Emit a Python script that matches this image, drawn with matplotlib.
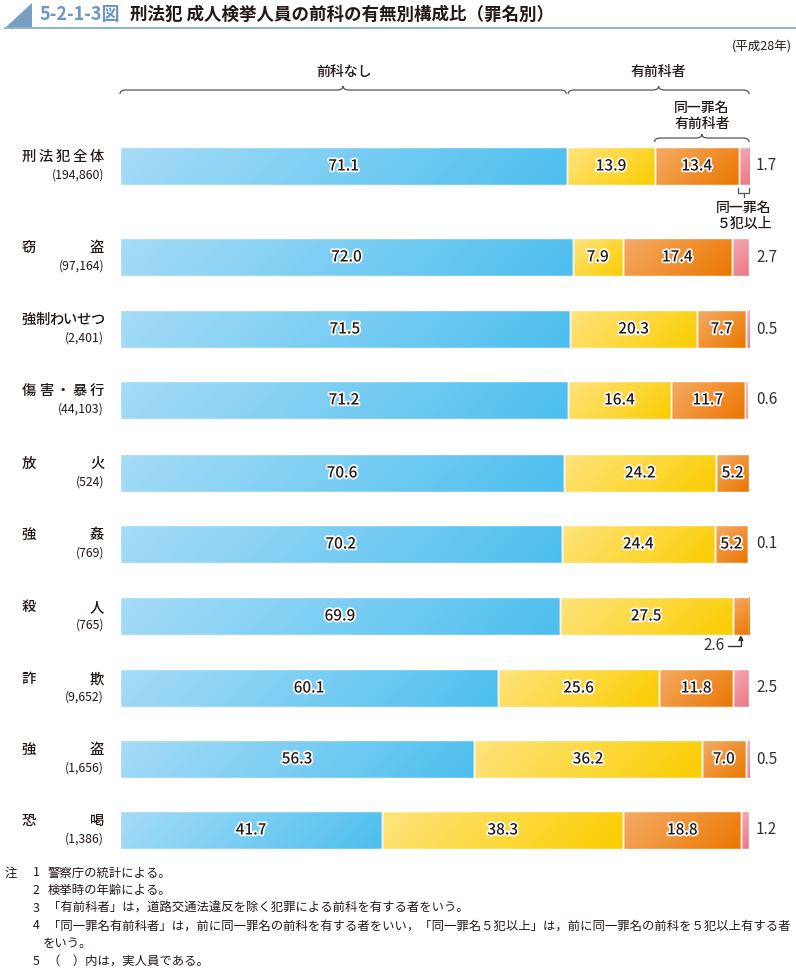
import matplotlib
matplotlib.use("Agg")
import matplotlib.pyplot as plt
import numpy as np
from matplotlib.colors import LinearSegmentedColormap
from matplotlib.patches import Rectangle, Polygon, PathPatch
from matplotlib.path import Path
import matplotlib.patheffects as pe

plt.rcParams["font.family"] = ["Noto Sans CJK JP", "DejaVu Sans"]

# data
categories = ["刑法犯全体", "窃盗", "強制わいせつ", "傷害・暴行", "放火",
              "強姦", "殺人", "詐欺", "強盗", "恐喝"]
counts = ["(194,860)", "(97,164)", "(2,401)", "(44,103)", "(524)",
          "(769)", "(765)", "(9,652)", "(1,656)", "(1,386)"]
no_record = [71.1, 72.0, 71.5, 71.2, 70.6, 70.2, 69.9, 60.1, 56.3, 41.7]
other_record = [13.9, 7.9, 20.3, 16.4, 24.2, 24.4, 27.5, 25.6, 36.2, 38.3]
same_record = [13.4, 17.4, 7.7, 11.7, 5.2, 5.2, 2.6, 11.8, 7.0, 18.8]
same_5plus = [1.7, 2.7, 0.5, 0.6, 0.0, 0.1, 0.0, 2.5, 0.5, 1.2]

notes = [
    ("注", "1", "警察庁の統計による。"),
    ("", "2", "検挙時の年齢による。"),
    ("", "3", "「有前科者」は，道路交通法違反を除く犯罪による前科を有する者をいう。"),
    ("", "4", "「同一罪名有前科者」は，前に同一罪名の前科を有する者をいい，「同一罪名５犯以上」は，前に同一罪名の前科を５犯以上有する者"),
    ("", "", "をいう。"),
    ("", "5", "（　）内は，実人員である。"),
]

# layout (pixels)
W, H = 796, 971
row_y = [166, 257, 329, 400, 473, 544, 616, 688, 759, 830]
bar_h = 38
x0_px, x1_px = 120, 749

grad_colors = [
    ("#a6dcf7", "#4cbfee"),
    ("#fee47e", "#fbcd00"),
    ("#f4ac66", "#ec7600"),
    ("#f6acb3", "#eb7784"),
]
txt_dark = "#231815"

fig = plt.figure(figsize=(W / 100, H / 100), dpi=100)
ov = fig.add_axes([0, 0, 1, 1])
ov.set_xlim(0, W)
ov.set_ylim(H, 0)
ov.axis("off")

ax = fig.add_axes([x0_px / W, 0, (x1_px - x0_px) / W, 1])
ax.set_xlim(0, 100)
ax.set_ylim(H, 0)
ax.axis("off")

pct_per_px = 100 / (x1_px - x0_px)


def grad_bar(left, width, yc, c0, c1):
    if width <= 0:
        return
    top = yc - bar_h / 2
    wpx = width / pct_per_px
    u = np.linspace(0, 1, 200)[None, :]
    v = np.linspace(0, 1, 40)[:, None]
    t = (u * wpx + v * bar_h) / (wpx + bar_h)
    cmap = LinearSegmentedColormap.from_list("g", [c0, c1])
    im = ax.imshow(t, cmap=cmap, extent=(left, left + width, top + bar_h, top),
                   origin="upper", aspect="auto", interpolation="bilinear", zorder=2)
    rect = Rectangle((left, top), width, bar_h, facecolor="none",
                     edgecolor="white", linewidth=1.0, zorder=3)
    ax.add_patch(rect)
    im.set_clip_path(rect)


stroke = [pe.withStroke(linewidth=2.5, foreground="white")]

for i, yc in enumerate(row_y):
    segs = [no_record[i], other_record[i], same_record[i], same_5plus[i]]
    left = 0
    for j, s in enumerate(segs):
        grad_bar(left, s, yc, *grad_colors[j])
        if j < 3 and s >= 4:
            ax.text(left + s / 2, yc, f"{s:.1f}", ha="center", va="center",
                    fontsize=11, fontweight="medium", color=txt_dark,
                    path_effects=stroke, zorder=5)
        left += s
    if same_5plus[i] > 0:
        ax.text(100 + 7 * pct_per_px, yc, f"{same_5plus[i]:.1f}", ha="left",
                va="center", fontsize=11, color="#333333")

    # category labels, characters spread over a fixed width
    name = categories[i]
    n = len(name)
    cw = 14
    lx, rx = 22, 104
    step = (rx - lx - cw) / (n - 1)
    for k, ch in enumerate(name):
        ov.text(lx + k * step + cw / 2, yc - 9, ch, ha="center", va="center",
                fontsize=10.3, fontweight="medium", color=txt_dark)
    ov.text(rx, yc + 9, counts[i], ha="right", va="center", fontsize=8.8,
            color=txt_dark)

# small value 2.6 for 殺人 with arrow
k = categories.index("殺人")
arrow_x = 100 - same_record[k] / 2
ax.annotate("", xy=(arrow_x, row_y[k] + bar_h / 2), xytext=(arrow_x - 2.0, row_y[k] + 30),
            arrowprops=dict(arrowstyle="-|>", color="#333333", lw=1.0,
                            connectionstyle="angle,angleA=0,angleB=90,rad=0",
                            mutation_scale=7, shrinkA=0, shrinkB=0))
ax.text(arrow_x - 2.6, row_y[k] + 30, f"{same_record[k]:.1f}", ha="right",
        va="center", fontsize=11, color="#333333")


def brace(x_left, x_right, y, h=4.0, r_px=6):
    r = r_px * pct_per_px
    xm = (x_left + x_right) / 2
    verts = [(x_left, y + h), (x_left, y), (x_left + r, y),
             (xm - r, y), (xm, y), (xm, y - h),
             (xm, y), (xm + r, y),
             (x_right - r, y), (x_right, y), (x_right, y + h)]
    codes = [Path.MOVETO, Path.CURVE3, Path.CURVE3,
             Path.LINETO, Path.CURVE3, Path.CURVE3,
             Path.CURVE3, Path.CURVE3,
             Path.LINETO, Path.CURVE3, Path.CURVE3]
    ax.add_patch(PathPatch(Path(verts, codes), facecolor="none",
                           edgecolor="#555555", lw=0.9, clip_on=False))


# top braces
brace(0, no_record[0] - 0.15, 90)
ax.text(no_record[0] / 2, 72, "前科なし", ha="center", va="center", fontsize=10,
        fontweight="medium", color=txt_dark)
brace(no_record[0] + 0.15, 100, 90)
ax.text((no_record[0] + 100) / 2, 72, "有前科者", ha="center", va="center",
        fontsize=10, fontweight="medium", color=txt_dark)
s3 = no_record[0] + other_record[0]
brace(s3, 100, 138)
ax.text((s3 + 100) / 2, 116, "同一罪名\n有前科者", ha="center", va="center",
        fontsize=10, fontweight="medium", color=txt_dark, linespacing=1.2)

# small bracket under 同一罪名5犯以上
p0 = 100 - same_5plus[0]
pm = 100 - same_5plus[0] / 2
ax.plot([p0, p0, 100, 100], [row_y[0] + 22, row_y[0] + 27, row_y[0] + 27, row_y[0] + 22],
        color="#555555", lw=0.9, clip_on=False)
ax.plot([pm, pm], [row_y[0] + 27, row_y[0] + 31], color="#555555", lw=0.9, clip_on=False)
ax.text(pm, 216, "同一罪名\n５犯以上", ha="center", va="center", fontsize=10,
        fontweight="medium", color=txt_dark, linespacing=1.2)

ov.text(792, 47, "(平成28年)", ha="right", va="center", fontsize=9, color=txt_dark)

# title
ov.add_patch(Polygon([(5, 28), (32, 3), (32, 28)], closed=True, color="#7a9dc2", lw=0))
ov.plot([5, 796], [28.5, 28.5], color="#8fb2d2", lw=1.5)
ov.text(40, 15, "5-2-1-3図", ha="left", va="center", fontsize=13, fontweight="bold",
        color="#6d97c3")
ov.text(130, 15, "刑法犯 成人検挙人員の前科の有無別構成比（罪名別）", ha="left",
        va="center", fontsize=12.6, fontweight="bold", color=txt_dark)

# notes
ny = 873
for head, num, body in notes:
    if head:
        ov.text(5, ny, head, ha="left", va="center", fontsize=8.9, color=txt_dark)
    if num:
        ov.text(33, ny, num, ha="left", va="center", fontsize=8.9, color=txt_dark)
        ov.text(48, ny, body, ha="left", va="center", fontsize=8.9, color=txt_dark)
    else:
        ov.text(43, ny, body, ha="left", va="center", fontsize=8.9, color=txt_dark)
    ny += 17.6

fig.savefig("out.png", dpi=100)
